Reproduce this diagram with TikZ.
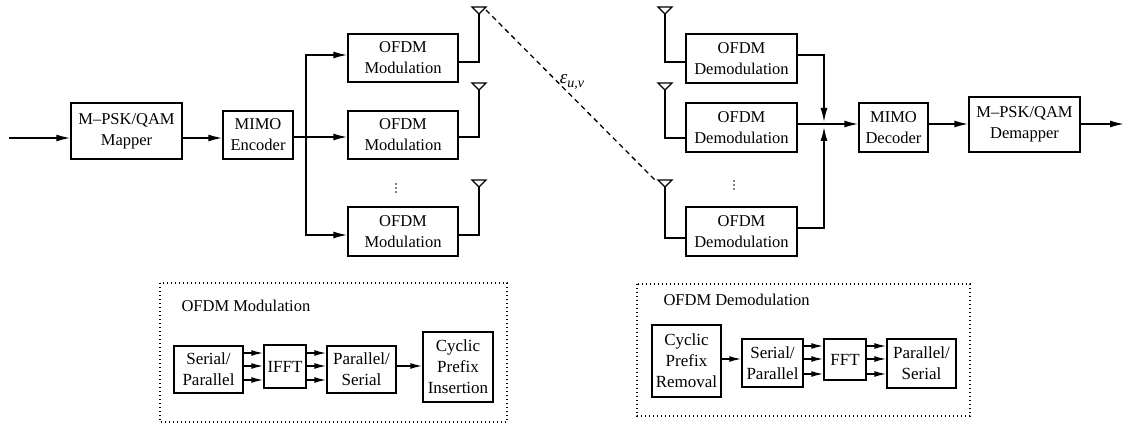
\documentclass[tikz,border=0pt]{standalone}
\usepackage{fontspec}
\setmainfont{Liberation Serif}
\newfontfamily\tms[Ligatures=TeX]{Liberation Serif}
\usetikzlibrary{arrows.meta}
\begin{document}
\begin{tikzpicture}[x=1pt,y=-1pt,
  blk/.style={draw,line width=1.5pt,inner sep=0pt,align=center,font=\tms\fontsize{16.5}{21}\selectfont},
  sblk/.style={draw,line width=1.5pt,inner sep=0pt,align=center,font=\tms\fontsize{17}{21}\selectfont},
  ln/.style={line width=1.5pt},
  arr/.style={line width=1.5pt,-{Latex[length=14pt,width=7pt]}},
  sarr/.style={line width=1.5pt,-{Latex[length=12pt,width=6pt]}},
  dotbox/.style={line width=1.3pt,dash pattern=on 1.3pt off 2.7pt},
  dashln/.style={line width=1.3pt,dash pattern=on 5pt off 4pt},
  lbl/.style={font=\tms\fontsize{16.5}{20}\selectfont},
  vdot/.style={fill,circle,inner sep=0pt,minimum size=1.8pt}
]
\useasboundingbox (0,0) rectangle (1125,425);

% transmitter
\node[blk,minimum width=111,minimum height=56] (map) at (126.5,131) {M–PSK/QAM\\Mapper};
\node[blk,minimum width=70,minimum height=48] (enc) at (258,135) {MIMO\\Encoder};
\node[blk,minimum width=110,minimum height=48] (m1) at (403,58) {OFDM\\Modulation};
\node[blk,minimum width=110,minimum height=48] (m2) at (403,135) {OFDM\\Modulation};
\node[blk,minimum width=110,minimum height=49] (m3) at (403,231.5) {OFDM\\Modulation};
\foreach \yy [count=\i] in {184,188,192}{ \node[vdot] (td\i) at (396,\yy) {}; }

\coordinate (src) at (9,138);
\draw[arr] (src) -- (src -| map.west);
\draw[arr] (src -| map.east) -- (src -| enc.west);
\coordinate (br) at (306,137);
\draw[ln] (enc.east |- br) -- (br);
\draw[arr] (br) |- ([yshift=3pt]m1.west);
\draw[arr] (br) -- (br -| m2.west);
\draw[arr] (br) |- ([yshift=-3.5pt]m3.west);

% tx antennas
\coordinate (ta1) at (479,14);
\coordinate (ta2) at (479,90);
\coordinate (ta3) at (479,187);
\foreach \a in {ta1,ta2,ta3}{
  \draw[line width=1.3pt] (\a) -- ++(-7,-7) -- ++(14,0) -- cycle;
}
\draw[ln] ([yshift=-4pt]m1.east) -| (ta1);
\draw[ln] ([yshift=-2pt]m2.east) -| (ta2);
\draw[ln] ([yshift=-3.5pt]m3.east) -| (ta3);

% receiver
\node[blk,minimum width=111,minimum height=49] (d1) at (741.5,58.5) {OFDM\\Demodulation};
\node[blk,minimum width=111,minimum height=49] (d2) at (741.5,127.5) {OFDM\\Demodulation};
\node[blk,minimum width=111,minimum height=49] (d3) at (741.5,231.5) {OFDM\\Demodulation};
\foreach \yy [count=\i] in {181,185,189}{ \node[vdot] (rd\i) at (734,\yy) {}; }
\node[blk,minimum width=69,minimum height=49] (dec) at (893.5,127.5) {MIMO\\Decoder};
\node[blk,minimum width=111,minimum height=55] (dem) at (1024.5,124.5) {M–PSK/QAM\\Demapper};

\coordinate (ra1) at (665,14);
\coordinate (ra2) at (665,90);
\coordinate (ra3) at (665,187);
\foreach \a in {ra1,ra2,ra3}{
  \draw[line width=1.3pt] (\a) -- ++(-7,-7) -- ++(14,0) -- cycle;
}
\draw[ln] (ra1) |- ([yshift=-3.5pt]d1.west);
\draw[ln] (ra2) |- ([yshift=-10.5pt]d2.west);
\draw[ln] (ra3) |- ([yshift=-6.5pt]d3.west);

\coordinate (bus) at (824,124);
\coordinate (busT) at (824,122);
\coordinate (busB) at (824,127);
\coordinate (sink) at (1124,124);
\draw[arr] ([yshift=3.5pt]d1.east) -| (busT);
\draw[arr] ([yshift=3.5pt]d3.east) -| (busB);
\draw[ln] ([yshift=3.5pt]d2.east) -- (bus);
\draw[arr] (bus) -- (bus -| dec.west);
\draw[arr] (bus -| dec.east) -- (bus -| dem.west);
\draw[arr] (bus -| dem.east) -- (sink);

% channel
\coordinate (chA) at (486,10);
\coordinate (chB) at (657,182);
\draw[dashln] (chA) -- (chB);
\node[font=\tms\fontsize{19}{20}\selectfont,inner sep=0pt] (eps) at (572,82) {\itshape ε\raisebox{-4pt}{\fontsize{14}{14}\selectfont u,v}};

% OFDM modulation detail
\draw[dotbox] (160,283) rectangle (507,422);
\node[lbl,anchor=west] (modlbl) at (178,306) {OFDM Modulation};
\node[sblk,minimum width=69,minimum height=47] (sp1) at (208.5,369.5) {Serial/\\Parallel};
\node[sblk,minimum width=42,minimum height=43] (ifft) at (285,366.5) {IFFT};
\node[sblk,minimum width=69,minimum height=47] (ps1) at (361.5,369.5) {Parallel/\\Serial};
\node[sblk,minimum width=70,minimum height=70] (cpi) at (458,367) {Cyclic\\Prefix\\Insertion};
\coordinate (ra) at (0,353);
\coordinate (rb) at (0,366);
\coordinate (rc) at (0,380);
\foreach \r in {ra,rb,rc}{
  \draw[sarr] (sp1.east |- \r) -- (ifft.west |- \r);
  \draw[sarr] (ifft.east |- \r) -- (ps1.west |- \r);
}
\draw[sarr] (ps1.east |- rb) -- (cpi.west |- rb);

% OFDM demodulation detail
\draw[dotbox] (637,284) rectangle (970,416);
\node[lbl,anchor=west] (demlbl) at (660,300) {OFDM Demodulation};
\node[sblk,minimum width=69,minimum height=72] (cpr) at (686.5,361) {Cyclic\\Prefix\\Removal};
\node[sblk,minimum width=61,minimum height=48] (sp2) at (772.5,363) {Serial/\\Parallel};
\node[sblk,minimum width=42,minimum height=41] (fft) at (845,359.5) {FFT};
\node[sblk,minimum width=69,minimum height=49] (ps2) at (921.5,363.5) {Parallel/\\Serial};
\coordinate (qa) at (0,346);
\coordinate (qb) at (0,359);
\coordinate (qc) at (0,374);
\draw[sarr] (cpr.east |- qb) -- (sp2.west |- qb);
\foreach \r in {qa,qb,qc}{
  \draw[sarr] (sp2.east |- \r) -- (fft.west |- \r);
  \draw[sarr] (fft.east |- \r) -- (ps2.west |- \r);
}
\end{tikzpicture}
\end{document}
